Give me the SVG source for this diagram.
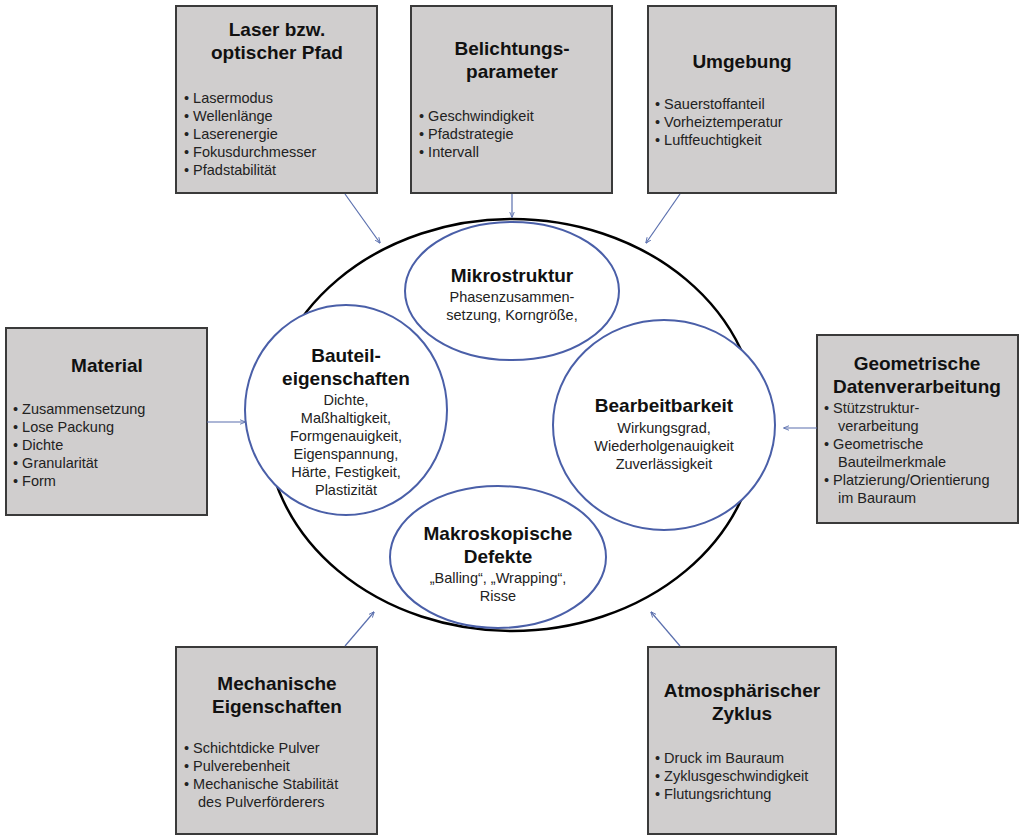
<svg xmlns="http://www.w3.org/2000/svg" width="1024" height="840" viewBox="0 0 1024 840">
<style>
.box{fill:#d0cece;stroke:#3a3a3a;stroke-width:2}
.t{font-family:"Liberation Sans",Arial,sans-serif;font-weight:bold;font-size:19px;fill:#111;text-anchor:middle}
.i{font-family:"Liberation Sans",Arial,sans-serif;font-size:14.5px;fill:#222}
.c{font-family:"Liberation Sans",Arial,sans-serif;font-size:14.5px;fill:#222;text-anchor:middle}
.in{fill:#fff;stroke:#4a5fa8;stroke-width:2}
.cn{stroke:#5a6fae;stroke-width:1.2;fill:none;marker-end:url(#a)}
</style>
<defs><marker id="a" viewBox="0 0 10 10" refX="9" refY="5" markerWidth="5" markerHeight="5" orient="auto"><path d="M0,1 L10,5 L0,9" fill="none" stroke="#5a6fae" stroke-width="1.5"/></marker></defs>
<rect width="1024" height="840" fill="#fff"/>
<g id="ellipse"><ellipse cx="512" cy="425" rx="246" ry="206" fill="#fff" stroke="#000" stroke-width="2.5"/></g>
<g id="mikro"><ellipse class="in" cx="512" cy="291" rx="107" ry="69"/>
<text class="t" x="512" y="282">Mikrostruktur</text>
<text class="c" x="512" y="302">Phasenzusammen-</text><text class="c" x="512" y="320">setzung, Korngröße,</text></g>
<g id="bauteil"><ellipse class="in" cx="346" cy="410" rx="101" ry="105"/>
<text class="t" x="346" y="362">Bauteil-</text><text class="t" x="346" y="385">eigenschaften</text>
<text class="c" x="346" y="405">Dichte,</text><text class="c" x="346" y="423">Maßhaltigkeit,</text><text class="c" x="346" y="441">Formgenauigkeit,</text><text class="c" x="346" y="459">Eigenspannung,</text><text class="c" x="346" y="477">Härte, Festigkeit,</text><text class="c" x="346" y="495">Plastizität</text></g>
<g id="bearb"><ellipse class="in" cx="664" cy="425" rx="111" ry="105"/>
<text class="t" x="664" y="412">Bearbeitbarkeit</text>
<text class="c" x="664" y="433">Wirkungsgrad,</text><text class="c" x="664" y="451">Wiederholgenauigkeit</text><text class="c" x="664" y="469">Zuverlässigkeit</text></g>
<g id="makro"><ellipse class="in" cx="498" cy="557" rx="108" ry="71"/>
<text class="t" x="498" y="540">Makroskopische</text><text class="t" x="498" y="563">Defekte</text>
<text class="c" x="498" y="583">„Balling“,  „Wrapping“,</text><text class="c" x="498" y="601">Risse</text></g>
<g id="laser"><rect class="box" x="176" y="6" width="201" height="187"/>
<text class="t" x="277" y="36">Laser bzw.</text><text class="t" x="277" y="59">optischer Pfad</text>
<text class="i" x="184" y="103">•  Lasermodus</text><text class="i" x="184" y="121">•  Wellenlänge</text><text class="i" x="184" y="139">•  Laserenergie</text><text class="i" x="184" y="157">•  Fokusdurchmesser</text><text class="i" x="184" y="175">•  Pfadstabilität</text></g>
<g id="belicht"><rect class="box" x="411" y="6" width="201" height="187"/>
<text class="t" x="512" y="55">Belichtungs-</text><text class="t" x="512" y="78">parameter</text>
<text class="i" x="419" y="121">•  Geschwindigkeit</text><text class="i" x="419" y="139">•  Pfadstrategie</text><text class="i" x="419" y="157">•  Intervall</text></g>
<g id="umgebung"><rect class="box" x="648" y="6" width="188" height="187"/>
<text class="t" x="742" y="68">Umgebung</text>
<text class="i" x="655" y="109">•  Sauerstoffanteil</text><text class="i" x="655" y="127">•  Vorheiztemperatur</text><text class="i" x="655" y="145">•  Luftfeuchtigkeit</text></g>
<g id="material"><rect class="box" x="6" y="328" width="201" height="187"/>
<text class="t" x="107" y="372">Material</text>
<text class="i" x="13" y="414">•  Zusammensetzung</text><text class="i" x="13" y="432">•  Lose Packung</text><text class="i" x="13" y="450">•  Dichte</text><text class="i" x="13" y="468">•  Granularität</text><text class="i" x="13" y="486">•  Form</text></g>
<g id="geom"><rect class="box" x="817" y="335" width="201" height="188"/>
<text class="t" x="917" y="370">Geometrische</text><text class="t" x="917" y="393">Datenverarbeitung</text>
<text class="i" x="824" y="413">•  Stützstruktur-</text><text class="i" x="838" y="431">verarbeitung</text><text class="i" x="824" y="449">•  Geometrische</text><text class="i" x="838" y="467">Bauteilmerkmale</text><text class="i" x="824" y="485">•  Platzierung/Orientierung</text><text class="i" x="838" y="503">im Bauraum</text></g>
<g id="mech"><rect class="box" x="176" y="647" width="201" height="187"/>
<text class="t" x="277" y="690">Mechanische</text><text class="t" x="277" y="713">Eigenschaften</text>
<text class="i" x="184" y="753">•  Schichtdicke Pulver</text><text class="i" x="184" y="771">•  Pulverebenheit</text><text class="i" x="184" y="789">•  Mechanische Stabilität</text><text class="i" x="198" y="807">des Pulverförderers</text></g>
<g id="atmos"><rect class="box" x="648" y="647" width="188" height="187"/>
<text class="t" x="742" y="697">Atmosphärischer</text><text class="t" x="742" y="720">Zyklus</text>
<text class="i" x="655" y="763">•  Druck im Bauraum</text><text class="i" x="655" y="781">•  Zyklusgeschwindigkeit</text><text class="i" x="655" y="799">•  Flutungsrichtung</text></g>
<g id="connectors">
<line class="cn" x1="345" y1="194" x2="380" y2="243"/>
<line class="cn" x1="512" y1="194" x2="512" y2="217"/>
<line class="cn" x1="680" y1="194" x2="646" y2="243"/>
<line class="cn" x1="207" y1="422" x2="245" y2="422"/>
<line class="cn" x1="817" y1="428" x2="784" y2="428"/>
<line class="cn" x1="345" y1="646" x2="374" y2="612"/>
<line class="cn" x1="680" y1="646" x2="651" y2="612"/>
</g>
</svg>
